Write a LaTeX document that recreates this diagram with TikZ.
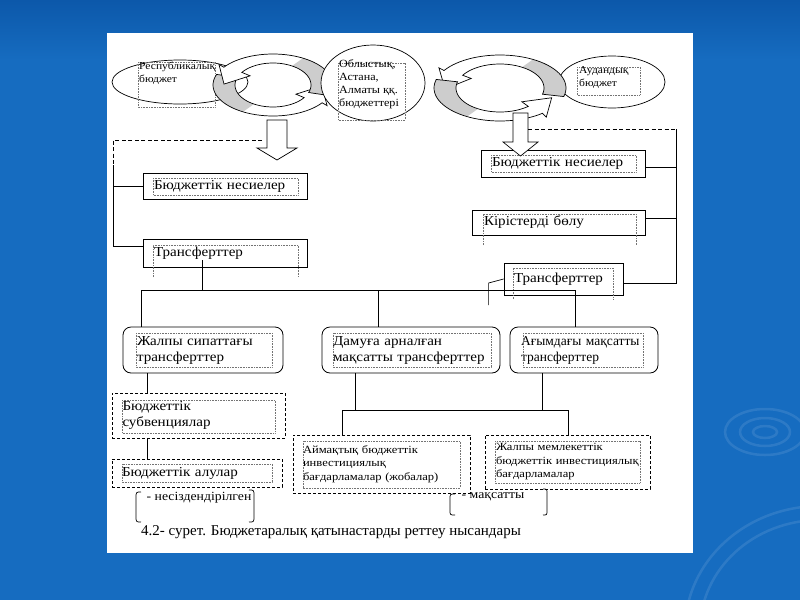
\documentclass[tikz,border=0pt]{standalone}
\usepackage{fontspec}
\setmainfont{Liberation Serif}
\newfontfamily\wide[FakeStretch=1.1]{Liberation Serif}
\newfontfamily\wider[FakeStretch=1.14]{Liberation Serif}
\usetikzlibrary{shapes.geometric,calc}
\definecolor{bgblue}{RGB}{22,108,192}
\definecolor{bgtop}{RGB}{12,88,170}
\definecolor{graytail}{RGB}{205,205,205}
\newcommand\mf{\wide\fontsize{13.7}{16}\selectfont}
\newcommand\sfnt{\wide\fontsize{10.5}{13.2}\selectfont}
\newcommand\tfnt{\wider\fontsize{11}{13.5}\selectfont}
\newcommand\cycarrow[8]{%
 \pgfmathsetmacro\ox{#3}\pgfmathsetmacro\oy{#4}%
 \pgfmathsetmacro\ix{#3-22}\pgfmathsetmacro\iy{#4-9}%
 \pgfmathsetmacro\wx{#3+6}\pgfmathsetmacro\wy{#4+5}%
 \pgfmathsetmacro\vx{#3-32}\pgfmathsetmacro\vy{#4-15}%
 \pgfmathsetmacro\mx{#3-11}\pgfmathsetmacro\my{#4-4.5}%
 \def\cyp{plot[domain=#5:#6,samples=40] ({#1+\ox*cos(\x)},{#2-\oy*sin(\x)}) -- ({#1+\wx*cos(#6)},{#2-\wy*sin(#6)}) -- ({#1+\mx*cos(#7)},{#2-\my*sin(#7)}) -- ({#1+\vx*cos(#6)},{#2-\vy*sin(#6)}) -- ({#1+\ix*cos(#6)},{#2-\iy*sin(#6)}) -- plot[domain=#6:#5,samples=40] ({#1+\ix*cos(\x)},{#2-\iy*sin(\x)}) -- cycle}%
 \fill[white] \cyp;
 \fill[graytail] plot[domain=#5:#8,samples=20] ({#1+\ox*cos(\x)},{#2-\oy*sin(\x)}) -- plot[domain=#8:#5,samples=20] ({#1+\ix*cos(\x)},{#2-\iy*sin(\x)}) -- cycle;
 \draw[line width=0.7pt] \cyp;
}
\tikzset{
 box/.style={draw, line width=0.8pt, inner sep=0pt, align=left, font=\mf, fill=white},
 rbox/.style={box, rounded corners=8pt},
 dbox/.style={draw, dash pattern=on 3pt off 2pt, line width=0.8pt, inner sep=0pt, align=left, font=\mf},
 tf/.style={draw=black!55, dash pattern=on 0.8pt off 0.8pt, line width=0.4pt},
 ell/.style={ellipse, draw, line width=0.7pt, fill=white, inner sep=0pt},
 ln/.style={line width=0.7pt},
 barrow/.style={draw, fill=white, line width=0.7pt},
}
\begin{document}
\begin{tikzpicture}[x=1pt,y=-1pt]
\useasboundingbox (0,0) rectangle (800,600);
% background
\fill[bgblue] (0,0) rectangle (800,600);
\shade[top color=bgtop, bottom color=bgblue] (0,0) rectangle (800,60);
\begin{scope}[draw=white, opacity=0.10, line width=2.5pt]
 \draw (765,432) ellipse (12 and 6);
 \draw (765,432) ellipse (25 and 14);
 \draw (765,432) ellipse (40 and 23);
 \draw (820,630) ellipse (120 and 110);
 \draw (820,630) ellipse (135 and 124);
\end{scope}
% panel
\fill[white] (107,33) rectangle (693,553);

% ---- top ellipses
\node[ell, minimum width=136pt, minimum height=44pt] (rep) at (180,82) {};
\draw[tf] (138,62) rectangle (215,107);
\node[anchor=north west, inner sep=0pt, align=left, font=\sfnt] (rept) at (139,62) {Республикалық\\бюджет};

\node[ell, minimum width=106pt, minimum height=52pt] (aud) at (612,82) {};
\draw[tf] (577,67) rectangle (640,95);
\node[anchor=north west, inner sep=0pt, align=left, font=\sfnt] (audt) at (579,66) {Аудандық\\бюджет};

% cycle arrows left
\cycarrow{273}{85}{60}{31}{160}{325}{358}{240}
\cycarrow{273}{85}{60}{31}{-20}{145}{178}{60}
% cycle arrows right
\cycarrow{500}{88}{66}{33}{-15}{148}{182}{60}
\cycarrow{500}{88}{66}{33}{165}{310}{340}{240}

\node[ell, minimum width=104pt, minimum height=76pt, fill=white] (obl) at (373,83) {};
\draw[tf] (338,63) rectangle (405,120);
\node[anchor=north west, inner sep=0pt, align=left, font=\wide\fontsize{11}{13.2}\selectfont] (oblt) at (339,59) {Облыстық,\\Астана,\\Алматы ққ.\\бюджеттері};

% block arrows
\draw[barrow] (267,120) -- (287,120) -- (287,148) -- (297,148) -- (277,160) -- (257,148) -- (267,148) -- cycle;

% ---- left column
\node[box, minimum width=164pt, minimum height=26pt, text width=142pt] (lbn) at (225,186) {Бюджеттік несиелер};
\draw[tf] (153,178) rectangle (298,195);
\node[box, minimum width=164pt, minimum height=28pt, text width=142pt] (ltr) at (225,253) {Трансферттер};
\draw[tf] (153,277) -- (153,245) -- (298,245) -- (298,277);

\coordinate (ls0) at (262,140);
\coordinate (ls1) at (113,140);
\coordinate (ls2) at (113,165);
\coordinate (ltrin) at ($(ltr.north west)+(0,8)$);
\draw[ln, dash pattern=on 4pt off 2.5pt] (ls0) -- (ls1) -- (ls2);
\draw[ln] (ls2) |- (ltrin);
\draw[ln] (ls2 |- lbn.west) -- (lbn.west);

% ---- right column
\node[box, minimum width=164pt, minimum height=27pt, text width=142pt] (rbn) at (563,163.5) {Бюджеттік несиелер};
\draw[tf] (491,155) rectangle (636,172);
\node[box, minimum width=173pt, minimum height=25pt, text width=149pt] (rki) at (558.5,222.5) {Кірістерді бөлу};
\draw[tf] (483,245) -- (483,214) -- (636,214) -- (636,245);
\node[box, minimum width=119pt, minimum height=32pt, text width=99pt] (rtr) at (563.5,279) {Трансферттер};
\draw[tf] (513,299) -- (513,268) -- (613,268) -- (613,299);

\draw[barrow] (513,113) -- (528,113) -- (528,142) -- (538,142) -- (520.5,156) -- (503,142) -- (513,142) -- cycle;

\coordinate (rs0) at (528,129);
\coordinate (rs1) at (676,129);
\coordinate (rbnE) at ($(rbn.east)+(0,3.5)$);
\coordinate (rkiE) at ($(rki.east)+(0,-4)$);
\coordinate (rtrE) at ($(rtr.east)+(0,4)$);
\draw[ln, dash pattern=on 4pt off 2.5pt] (rs0) -- (rs1);
\draw[ln] (rs1) |- (rtrE);
\draw[ln] (rbnE) -- (rs1 |- rbnE);
\draw[ln] (rkiE) -- (rs1 |- rkiE);
\draw[ln] (rtr.west) -- ++(-15,4) -- ++(0,22);

% ---- second row
\node[rbox, minimum width=160pt, minimum height=46pt, text width=132pt] (jal) at (203,350) {Жалпы сипаттағы\\трансферттер};
\draw[tf] (136,333) rectangle (272,367);
\node[rbox, minimum width=178pt, minimum height=46pt, text width=156pt] (dam) at (411,350) {Дамуға арналған\\мақсатты трансферттер};
\draw[tf] (333,333) rectangle (491,367);
\node[rbox, minimum width=148pt, minimum height=46pt, text width=126pt, font=\fontsize{13.5}{16}\selectfont] (agy) at (584,350) {Ағымдағы мақсатты\\трансферттер};
\draw[tf] (523,333) rectangle (643,367);

% bus from left transfers
\coordinate (bt) at ($(ltr.center)+(-23,7)$);
\coordinate (bus) at (202,290);
\draw[ln] (bt) -- (bus);
\coordinate (busL) at (141,290);
\coordinate (busM) at (378,290);
\coordinate (busR) at (575,290);
\draw[ln] (busL) -- (busR);
\draw[ln] (busL) -- (busL |- jal.north);
\draw[ln] (busM) -- (busM |- dam.north);
\draw[ln] (busR) -- (busR |- agy.north);

% ---- left lower
\node[dbox, minimum width=173pt, minimum height=45pt, text width=152pt] (sub) at (198.5,415.5) {Бюджеттік\\субвенциялар};
\draw[tf] (122,400) rectangle (275,433);
\node[dbox, minimum width=170pt, minimum height=28pt, text width=150pt] (alu) at (197,473) {Бюджеттік алулар};
\draw[tf] (122,464) rectangle (272,482);
\coordinate (v1) at (147,373);
\coordinate (v2) at (147,438);
\draw[ln] (v1) -- (v1 |- sub.north);
\draw[ln] (v2) -- (v2 |- alu.north);

% ---- right lower
\node[dbox, minimum width=177pt, minimum height=58pt, text width=157pt, font=\tfnt] (aim) at (381.5,464) {Аймақтық бюджеттік\\инвестициялық\\бағдарламалар (жобалар)};
\draw[tf] (303,441) rectangle (460,488);
\node[dbox, minimum width=165pt, minimum height=54pt, text width=143pt, font=\tfnt] (jmm) at (567.5,462) {Жалпы мемлекеттік\\бюджеттік инвестициялық\\бағдарламалар};
\draw[tf] (495,441) rectangle (640,483);

\coordinate (h1) at (342,410);
\coordinate (h2) at (568,410);
\coordinate (d1) at (355,373);
\coordinate (d2) at (542,373);
\draw[ln] (d1) -- (d1 |- h1);
\draw[ln] (d2) -- (d2 |- h2);
\draw[ln] (h1) -- (h2);
\draw[ln] (h1) -- (h1 |- aim.north);
\draw[ln] (h2) -- (h2 |- jmm.north);

% ---- brackets and caption
\draw[ln] (141,492) .. controls (136,492) .. (136,498) -- (136,516) .. controls (136,522) .. (141,522);
\draw[ln] (249,490) .. controls (254,490) .. (254,496) -- (254,516) .. controls (254,522) .. (249,522);
\node[font=\wide\fontsize{12.5}{14}\selectfont, inner sep=0pt] (nes) at (199,498) {- несіздендірілген};

\draw[ln] (455,494) .. controls (450,494) .. (450,499) -- (450,510) .. controls (450,515) .. (455,515);
\draw[ln] (543,489) .. controls (547,489) .. (547,494) -- (547,510) .. controls (547,515) .. (543,515);
\node[font=\wide\fontsize{12.5}{14}\selectfont, inner sep=0pt] (mak) at (493,497) {- мақсатты};

\node[font=\fontsize{15}{17}\selectfont, inner sep=0pt] (cap) at (331,532) {4.2- сурет. Бюджетаралық қатынастарды реттеу нысандары};
\end{tikzpicture}
\end{document}
